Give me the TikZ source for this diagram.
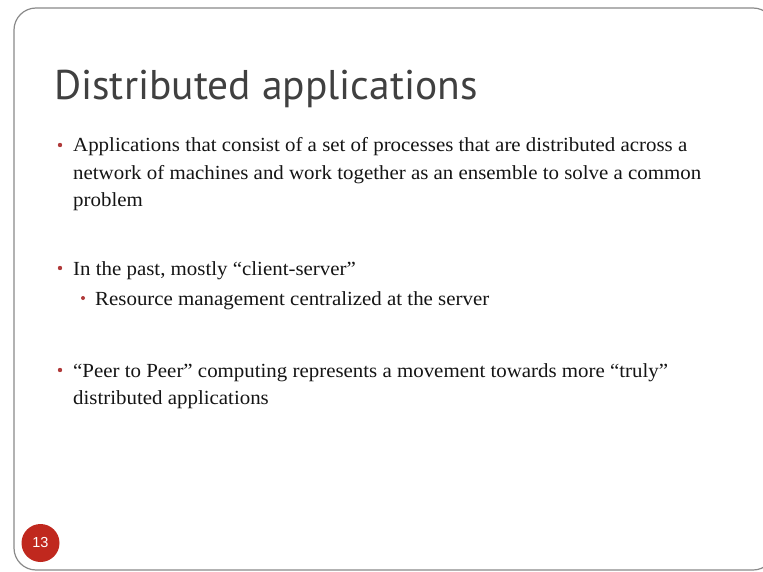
\documentclass[tikz,border=0pt]{standalone}
\usepackage{fontspec}
\setmainfont{Liberation Serif}
\newfontfamily\titlefont{PT Sans}
\newfontfamily\numfont{Liberation Sans}
\definecolor{frame}{HTML}{8A8A8A}
\definecolor{bul}{HTML}{B03A3A}
\definecolor{body}{HTML}{151515}
\definecolor{ttl}{HTML}{404040}
\definecolor{pg}{HTML}{C0281E}
\begin{document}
\begin{tikzpicture}[x=1pt,y=-1pt,
  bodytext/.style={anchor=base west,inner sep=0pt,text=body,xscale=1.045,font=\fontsize{20}{20}\selectfont},
  bulletdot/.style={circle,fill=bul,inner sep=0pt,minimum size=4.4pt}]
\useasboundingbox (0,0) rectangle (763,572);
\fill[white] (0,0) rectangle (763,572);
\draw[frame,line width=1.2pt,rounded corners=22pt] (14,8) rectangle (775,570);
\node[anchor=base west,inner sep=0pt,text=ttl,font=\titlefont\fontsize{41.5}{41.5}\selectfont] (title) at (54,100) {Distributed applications};
% bullet 1
\node[bulletdot] (b1) at (60,145) {};
\node[bodytext] (l1a) at (73,152) {Applications that consist of a set of processes that are distributed across a};
\node[bodytext] (l1b) at (73,180) {network of machines and work together as an ensemble to solve a common};
\node[bodytext] (l1c) at (73,207) {problem};
% bullet 2
\node[bulletdot] (b2) at (60,268) {};
\node[bodytext] (l2a) at (73,275) {In the past, mostly “client-server”};
\node[bulletdot,minimum size=4pt] (b2s) at (83,298) {};
\node[bodytext] (l2b) at (95,305) {Resource management centralized at the server};
% bullet 3
\node[bulletdot] (b3) at (60,370) {};
\node[bodytext] (l3a) at (73,377) {“Peer to Peer” computing represents a movement towards more “truly”};
\node[bodytext] (l3b) at (73,404) {distributed applications};
% page number
\node[circle,fill=pg,minimum size=38pt,inner sep=0pt,text=white,font=\numfont\fontsize{14.5}{14.5}\selectfont] (pnum) at (40.5,543) {13};
\end{tikzpicture}
\end{document}
